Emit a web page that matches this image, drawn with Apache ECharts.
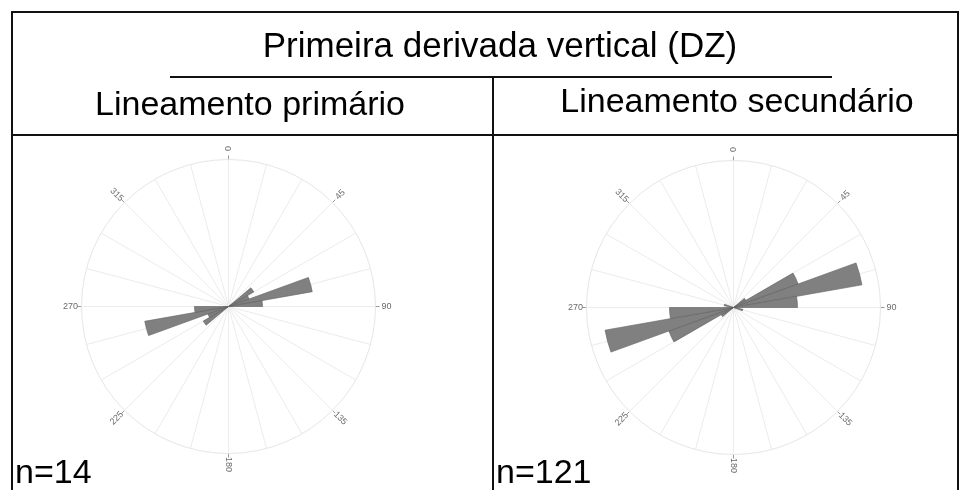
<!DOCTYPE html>
<html>
<head>
<meta charset="utf-8">
<script src="https://cdn.jsdelivr.net/npm/echarts@6/dist/echarts.min.js"></script>
<style>
  html, body { margin: 0; padding: 0; background: #fff; }
  #chart { width: 960px; height: 490px; }
</style>
</head>
<body>
<div id="chart"></div>
<script>
// Rose diagrams of lineament azimuths (10° bins, axial data shown in both directions)
const mainTitle = 'Primeira derivada vertical (DZ)';
const panelTitles = ['Lineamento primário', 'Lineamento secundário'];
const sampleSizes = ['n=14', 'n=121'];

// Bin starts in degrees (0–350, 10° wide)
const binStarts = [0, 10, 20, 30, 40, 50, 60, 70, 80, 90, 100, 110, 120, 130, 140, 150, 160, 170,
                   180, 190, 200, 210, 220, 230, 240, 250, 260, 270, 280, 290, 300, 310, 320, 330, 340, 350];

// Bar lengths per bin (counts)
const primaryCounts = [0, 0, 0, 0, 0, 2.4, 1.8, 7, 2.8, 0, 0, 0, 0, 0, 0, 0, 0, 0,
                       0, 0, 0, 0, 0, 2.4, 1.8, 7, 2.8, 0, 0, 0, 0, 0, 0, 0, 0, 0];
const secondaryCounts = [0, 0, 0, 0, 0, 6, 29, 55, 27, 0, 4, 0, 0, 0, 0, 0, 0, 0,
                         0, 0, 0, 0, 0, 6, 29, 55, 27, 0, 4, 0, 0, 0, 0, 0, 0, 0];

// Outer ring value of each rose
const primaryMax = 12.1;
const secondaryMax = 62;

// Azimuth labels around each rose
const azimuthLabels = [0, 45, 90, 135, 180, 225, 270, 315];

const FONT = '"Liberation Sans", Arial, sans-serif';
const chart = echarts.init(document.getElementById('chart'), null, { renderer: 'canvas' });

const roses = [
  { center: [228.5, 306.5], counts: primaryCounts, max: primaryMax },
  { center: [733.5, 307.5], counts: secondaryCounts, max: secondaryMax }
];
const R = 147;

const polar = [], angleAxis = [], radiusAxis = [], series = [];

roses.forEach((rose, k) => {
  const base = polar.length;
  // grid polar: 15° spokes, outer circle, ticks every 45°
  polar.push({ center: rose.center, radius: R });
  angleAxis.push({
    polarIndex: base, type: 'value', min: 0, max: 360, interval: 45,
    startAngle: 90, clockwise: true,
    axisLine: { show: true, lineStyle: { color: '#e6e6e6', width: 1 } },
    axisTick: { show: true, length: 4, lineStyle: { color: '#9a9a9a', width: 1 } },
    axisLabel: { show: false },
    splitLine: { show: true, lineStyle: { color: '#ececec', width: 1 } },
    minorTick: { show: false, splitNumber: 3 },
    minorSplitLine: { show: true, lineStyle: { color: '#ececec', width: 1 } }
  });
  radiusAxis.push({ polarIndex: base, type: 'value', min: 0, max: 1, show: false });

  // bar polar
  polar.push({ center: rose.center, radius: R });
  angleAxis.push({
    polarIndex: base + 1, type: 'category', data: binStarts,
    startAngle: 90, clockwise: true, boundaryGap: true, show: false
  });
  radiusAxis.push({ polarIndex: base + 1, type: 'value', min: 0, max: rose.max, show: false });
  series.push({
    type: 'bar', coordinateSystem: 'polar', polarIndex: base + 1,
    data: rose.counts, barCategoryGap: '0%', barGap: '0%',
    itemStyle: { color: '#808080', borderColor: '#5e5e5e', borderWidth: 0.6 },
    emphasis: { disabled: true }, silent: true, animation: false
  });

  // label ring
  polar.push({ center: rose.center, radius: R + 11 });
  angleAxis.push({
    polarIndex: base + 2, type: 'value', min: 0, max: 360,
    startAngle: 90, clockwise: true, show: false
  });
  radiusAxis.push({ polarIndex: base + 2, type: 'value', min: 0, max: 1, show: false });
  series.push({
    type: 'scatter', coordinateSystem: 'polar', polarIndex: base + 2,
    symbolSize: 0, clip: false, silent: true, animation: false,
    data: azimuthLabels.map(a => {
      let cw = a - 90;
      if (cw > 90) cw -= 180;
      return {
        value: [1, a],
        label: {
          show: true, position: 'inside', formatter: String(a), rotate: -cw,
          color: '#444', fontSize: 9, fontFamily: FONT
        }
      };
    })
  });
});

const frame = { stroke: '#111', lineWidth: 2 };
const textStyle = (txt, x, y, size, align) => ({
  type: 'text', x: x, y: y,
  style: { text: txt, fill: '#000', font: size + 'px ' + FONT, textAlign: align || 'center', textVerticalAlign: 'middle' },
  silent: true
});

const graphic = [
  // outer frame
  { type: 'polyline', shape: { points: [[12, 495], [12, 12], [958, 12], [958, 495]] }, style: Object.assign({ fill: null }, frame), silent: true },
  // rule under main title
  { type: 'line', shape: { x1: 170, y1: 77, x2: 832, y2: 77 }, style: frame, silent: true },
  // panel divider
  { type: 'line', shape: { x1: 493, y1: 77, x2: 493, y2: 495 }, style: frame, silent: true },
  // line under panel titles
  { type: 'line', shape: { x1: 12, y1: 135, x2: 958, y2: 135 }, style: frame, silent: true },
  textStyle(mainTitle, 500, 47, 35),
  textStyle(panelTitles[0], 250, 106, 34),
  textStyle(panelTitles[1], 737, 103, 34),
  textStyle(sampleSizes[0], 15, 474, 34, 'left'),
  textStyle(sampleSizes[1], 496, 474, 34, 'left')
];

chart.setOption({
  backgroundColor: '#ffffff',
  animation: false,
  polar: polar,
  angleAxis: angleAxis,
  radiusAxis: radiusAxis,
  series: series,
  graphic: graphic
});
</script>
</body>
</html>
